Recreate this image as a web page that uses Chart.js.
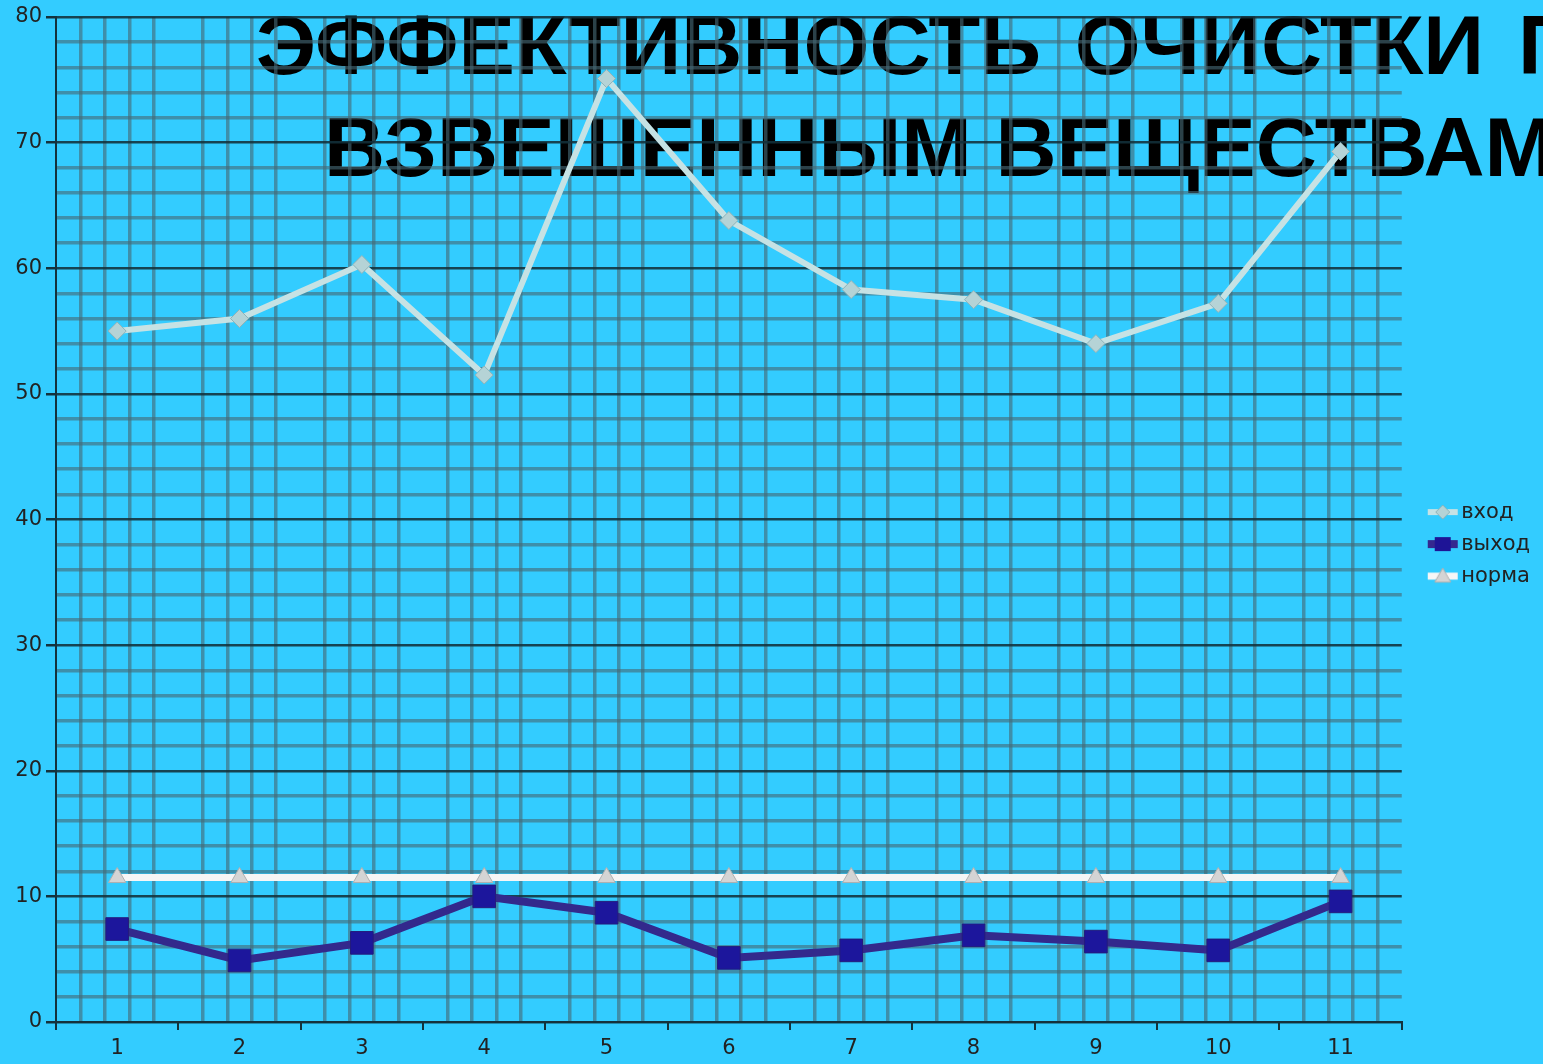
<!DOCTYPE html>
<html><head><meta charset="utf-8">
<script src="https://cdn.jsdelivr.net/npm/chart.js@4/dist/chart.umd.min.js"></script>
<style>
html,body{margin:0;padding:0;background:#33CCFF;width:1543px;height:1064px;overflow:hidden;}
#wrap{position:relative;width:1543px;height:1064px;overflow:hidden;}
.title{position:absolute;z-index:0;font-family:'Liberation Sans',Arial,sans-serif;font-weight:bold;font-size:83px;line-height:83px;color:#000;white-space:nowrap;transform-origin:0 0;transform:scaleX(1.02);}
canvas{position:absolute;left:0;top:0;z-index:1;}
</style></head><body>
<div id="wrap">
<div class="title" id="t1" style="left:256px;top:4px;word-spacing:10px;">ЭФФЕКТИВНОСТЬ ОЧИСТКИ ПО</div>
<div class="title" id="t2" style="left:324px;top:106px;">ВЗВЕШЕННЫМ ВЕЩЕСТВАМ</div>
<canvas id="c" width="1543" height="1064"></canvas>
</div>
<script>
const categories = ['1','2','3','4','5','6','7','8','9','10','11'];
const seriesNames = ['вход','выход','норма'];
const vhod  = [55.0, 56.0, 60.3, 51.5, 75.1, 63.8, 58.3, 57.5, 54.0, 57.2, 69.3];
const vyhod = [7.4, 4.9, 6.3, 10.0, 8.7, 5.1, 5.7, 6.9, 6.4, 5.7, 9.6];
const norma = [11.5, 11.5, 11.5, 11.5, 11.5, 11.5, 11.5, 11.5, 11.5, 11.5, 11.5];
const yMin = 0, yMax = 80, yMajorStep = 10, yMinorStep = 2;
const xSubdivisions = 5;

const MINOR = 'rgba(70,105,118,0.62)';
const MAJOR = 'rgba(18,48,58,0.88)';
const AXIS = '#14323c';
const TEXT = '#222222';

function icon(kind){
  const c = document.createElement('canvas');
  c.width = 64; c.height = 22;
  const g = c.getContext('2d');
  const cx = 43, cy = 11;
  if (kind === 0){
    g.strokeStyle = '#c6e2e4'; g.lineWidth = 6;
    g.beginPath(); g.moveTo(28,cy); g.lineTo(58,cy); g.stroke();
    g.fillStyle = '#b5d3d6'; g.strokeStyle = '#8fb3b8'; g.lineWidth = 1;
    g.beginPath(); g.moveTo(cx, cy-7); g.lineTo(cx+7, cy); g.lineTo(cx, cy+7); g.lineTo(cx-7, cy); g.closePath(); g.fill(); g.stroke();
  } else if (kind === 1){
    g.strokeStyle = '#35288f'; g.lineWidth = 8;
    g.beginPath(); g.moveTo(28,cy); g.lineTo(58,cy); g.stroke();
    g.fillStyle = '#1e1496';
    g.fillRect(cx-8, cy-7, 16, 14);
  } else {
    g.strokeStyle = '#f6f6f6'; g.lineWidth = 7;
    g.beginPath(); g.moveTo(28,cy); g.lineTo(58,cy); g.stroke();
    g.fillStyle = '#d4d4d4'; g.strokeStyle = '#b0b0b0'; g.lineWidth = 1;
    g.beginPath(); g.moveTo(cx, cy-8); g.lineTo(cx+8, cy+6); g.lineTo(cx-8, cy+6); g.closePath(); g.fill(); g.stroke();
  }
  return c;
}
const icons = [icon(0), icon(1), icon(2)];

new Chart(document.getElementById('c'), {
  type: 'line',
  data: {
    labels: categories,
    datasets: [
      {label: seriesNames[0], data: vhod, borderColor:'#c6e2e4', borderWidth:6,
       pointStyle:'rectRot', pointRadius:9, pointBackgroundColor:'#b5d3d6', pointBorderColor:'#8fb3b8', pointBorderWidth:1},
      {label: seriesNames[1], data: vyhod, borderColor:'#33298c', borderWidth:8,
       pointStyle:'rect', pointRadius:16, pointBackgroundColor:'#1c169c', pointBorderColor:'#241c7c', pointBorderWidth:1},
      {label: seriesNames[2], data: norma, borderColor:'#f6f6f6', borderWidth:7,
       pointStyle:'triangle', pointRadius:10, pointBackgroundColor:'#d4d4d4', pointBorderColor:'#b0b0b0', pointBorderWidth:1}
    ]
  },
  options: {
    responsive:false, animation:false, devicePixelRatio:1,
    layout:{padding:{top:17, right:3, left:0, bottom:0}},
    plugins:{
      tooltip:{enabled:false},
      title:{display:false},
      legend:{
        position:'right',
        title:{display:true, text:' ', font:{size:6}, padding:0},
        labels:{
          usePointStyle:true, pointStyleWidth:38, boxHeight:20,
          padding:11, color:TEXT,
          font:{family:'DejaVu Sans', size:21},
          generateLabels:(chart)=> chart.data.datasets.map((d,i)=>({
            text:d.label, pointStyle:icons[i], fillStyle:'transparent', strokeStyle:'transparent',
            lineWidth:0, hidden:false, datasetIndex:i, fontColor:TEXT
          }))
        }
      }
    },
    scales:{
      x:{
        type:'category', offset:true,
        grid:{offset:true, drawOnChartArea:false, drawTicks:true, tickLength:8, color:AXIS, lineWidth:2},
        border:{color:AXIS, width:2},
        ticks:{color:TEXT, font:{family:'DejaVu Sans', size:21}, padding:6, maxRotation:0, autoSkip:false},
        afterFit:(s)=>{s.height=42;}
      },
      xg:{
        type:'linear', position:'bottom', axis:'x', min:0, max:categories.length*xSubdivisions,
        ticks:{display:false, stepSize:1, autoSkip:false},
        grid:{drawTicks:false, lineWidth:3.5,
          color:(ctx)=> (ctx.tick && ctx.tick.value % xSubdivisions === 0) ? 'rgba(0,0,0,0)' : MINOR},
        border:{display:false},
        afterFit:(s)=>{s.height=0;}
      },
      y:{
        min:yMin, max:yMax,
        ticks:{stepSize:yMinorStep, autoSkip:false, color:TEXT, font:{family:'DejaVu Sans', size:21}, padding:4,
          callback:(v)=> (v % yMajorStep === 0) ? String(v) : ''},
        grid:{tickLength:10,
          color:(ctx)=> (ctx.tick && ctx.tick.value % yMajorStep === 0) ? MAJOR : MINOR,
          lineWidth:(ctx)=> (ctx.tick && ctx.tick.value % yMajorStep === 0) ? 2.5 : 3.5,
          tickColor:(ctx)=> (ctx.tick && ctx.tick.value % yMajorStep === 0) ? AXIS : 'rgba(0,0,0,0)'},
        border:{color:AXIS, width:2},
        afterFit:(s)=>{s.width=56;}
      }
    }
  }
});
</script>
</body></html>
